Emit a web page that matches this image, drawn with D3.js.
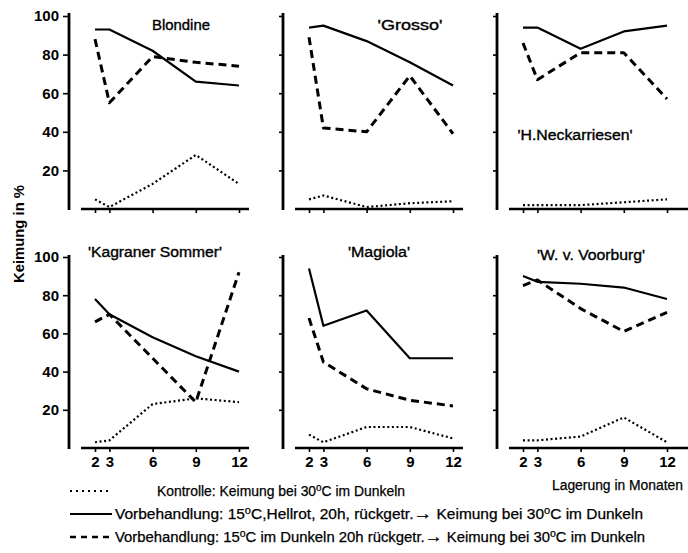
<!DOCTYPE html>
<html><head><meta charset="utf-8">
<script src="https://cdn.jsdelivr.net/npm/d3@7"></script>
<style>html,body{margin:0;padding:0;background:#fff;}svg{display:block;}</style>
</head><body>
<script>
// ---- data ----
const months = [2, 3, 6, 9, 12];
const varieties = ["Blondine", "'Grosso'", "'H.Neckarriesen'", "'Kagraner Sommer'", "'Magiola'", "'W. v. Voorburg'"];
const kontrolle = [[5,1,13,28,13],[5,7,1,3,4],[2,2,2,3.5,5],[3,4,23,26,24],[7,3,11,11,5],[4,4,6,16,3]];
const hellrot   = [[93,93,82,66,64],[94,95,87,76,64],[94,94,83,92,95],[78,70,58,48,40],[94,64,72,47,47],[90,87,86,84,78]];
const dunkel    = [[88,55,79,76,74],[89,42,40,69,39],[86,67,81,81,57],[66,70,47,24,92],[68,45,31,25,22],[85,88,73,61,71]];
const yTicks = [20, 40, 60, 80, 100];
const xTicks = [2, 3, 6, 9, 12];
const yLabel = "Keimung in %";
const xLabel = "Lagerung in Monaten";

// ---- layout ----
const W = 688, H = 553;
const FONT = "'Liberation Sans', Arial, sans-serif";
const colX = [69, 283, 497];
const rows = [{y0: 209, y100: 16, top: 13}, {y0: 448, y100: 257, top: 255}];
const titlePos = [[181,25,58],[410,25,65],[575,135,115],[155,252,134],[379,252,62],[591,255,108]];

const svg = d3.select("body").append("svg").attr("width", W).attr("height", H)
  .style("font-family", FONT);

const styles = [
  {data: kontrolle, width: 2.2, dash: "2,2.6"},
  {data: hellrot, width: 2.2, dash: null},
  {data: dunkel, width: 3, dash: "8,5"}
];

varieties.forEach((name, i) => {
  const col = i % 3, row = Math.floor(i / 3);
  const ax = colX[col], r = rows[row];
  const x = d3.scaleLinear().domain([2, 12]).range([ax + 26, ax + 170]);
  const y = d3.scaleLinear().domain([0, 100]).range([r.y0, r.y100]);
  const g = svg.append("g");

  // y axis
  const yAxis = d3.axisLeft(y).tickValues(yTicks).tickSize(col === 0 ? 6 : 4)
    .tickFormat(col === 0 ? d3.format("d") : () => "");
  const gy = g.append("g").attr("transform", `translate(${ax},0)`).call(yAxis);
  gy.select(".domain").remove();
  gy.selectAll(".tick line").attr("stroke", "#000").attr("stroke-width", 1.6);
  gy.selectAll(".tick text").attr("fill", "#000").attr("font-size", 15).attr("font-weight", "bold")
    .attr("font-family", FONT).attr("dx", -1);
  g.append("line").attr("x1", ax).attr("x2", ax).attr("y1", r.top).attr("y2", r.y0 + 1)
    .attr("stroke", "#000").attr("stroke-width", 2.8);

  // x axis
  const xAxis = d3.axisBottom(x).tickValues(xTicks).tickSize(4).tickPadding(4)
    .tickFormat(row === 1 ? d3.format("d") : () => "");
  const gx = g.append("g").attr("transform", `translate(0,${r.y0})`).call(xAxis);
  gx.select(".domain").remove();
  gx.selectAll(".tick line").attr("stroke", "#000").attr("stroke-width", 1.6);
  gx.selectAll(".tick text").attr("fill", "#000").attr("font-size", 15).attr("font-weight", "bold")
    .attr("font-family", FONT);
  g.append("line").attr("x1", ax + 12).attr("x2", col === 2 ? 688 : ax + 180)
    .attr("y1", r.y0).attr("y2", r.y0).attr("stroke", "#000").attr("stroke-width", 2.4);

  // series
  styles.forEach(s => {
    const line = d3.line().x((d, k) => x(months[k])).y(d => y(d));
    g.append("path").attr("d", line(s.data[i])).attr("fill", "none").attr("stroke", "#000")
      .attr("stroke-width", s.width).attr("stroke-dasharray", s.dash).attr("stroke-linejoin", "round");
  });

  // title
  const tp = titlePos[i];
  g.append("text").attr("x", tp[0]).attr("y", tp[1]).attr("text-anchor", "middle")
    .attr("dominant-baseline", "central").attr("font-size", 14)
    .attr("stroke", "#000").attr("stroke-width", 0.35)
    .attr("textLength", tp[2]).attr("lengthAdjust", "spacingAndGlyphs").text(name);
});

// y label
svg.append("text").attr("transform", "translate(19,234) rotate(-90)").attr("text-anchor", "middle")
  .attr("dominant-baseline", "central").attr("font-size", 14).attr("font-weight", "bold")
  .attr("textLength", 98).attr("lengthAdjust", "spacingAndGlyphs").text(yLabel);

// x label
svg.append("text").attr("x", 683).attr("y", 485).attr("text-anchor", "end")
  .attr("dominant-baseline", "central").attr("font-size", 14)
  .attr("stroke", "#000").attr("stroke-width", 0.25)
  .attr("textLength", 131).attr("lengthAdjust", "spacingAndGlyphs").text(xLabel);

// legend
function degText(sel, parts) {
  parts.forEach(p => {
    if (p === "o") sel.append("tspan").attr("dy", -5).attr("font-size", 10).text("o");
    else if (p === "ARROW") sel.append("tspan").attr("font-size", 17).text("\u2192");
    else if (p.startsWith("C")) sel.append("tspan").attr("dy", 5).text(p);
    else sel.append("tspan").text(p);
  });
}
const leg = svg.append("g").attr("font-size", 14).attr("fill", "#000")
  .attr("stroke", "#000").attr("stroke-width", 0.25);
// line 1
leg.append("line").attr("x1", 70).attr("x2", 112).attr("y1", 491).attr("y2", 491)
  .attr("stroke", "#000").attr("stroke-width", 2.2).attr("stroke-dasharray", "2,4");
let t1 = leg.append("text").attr("x", 157).attr("y", 496).attr("textLength", 248).attr("lengthAdjust", "spacingAndGlyphs");
degText(t1, ["Kontrolle: Keimung bei 30", "o", "C  im Dunkeln"]);
// line 2
leg.append("line").attr("x1", 70).attr("x2", 112).attr("y1", 514).attr("y2", 514)
  .attr("stroke", "#000").attr("stroke-width", 2.2);
let t2 = leg.append("text").attr("x", 115).attr("y", 519).attr("textLength", 528).attr("lengthAdjust", "spacingAndGlyphs");
degText(t2, ["Vorbehandlung: 15", "o", "C,Hellrot, 20h, rückgetr.", "ARROW", " Keimung bei 30", "o", "C im Dunkeln"]);
// line 3
leg.append("line").attr("x1", 70).attr("x2", 112).attr("y1", 537).attr("y2", 537)
  .attr("stroke", "#000").attr("stroke-width", 2.6).attr("stroke-dasharray", "6,5");
let t3 = leg.append("text").attr("x", 115).attr("y", 542).attr("textLength", 530).attr("lengthAdjust", "spacingAndGlyphs");
degText(t3, ["Vorbehandlung: 15", "o", "C im Dunkeln 20h rückgetr.", "ARROW", " Keimung bei 30", "o", "C im Dunkeln"]);
</script>
</body></html>
